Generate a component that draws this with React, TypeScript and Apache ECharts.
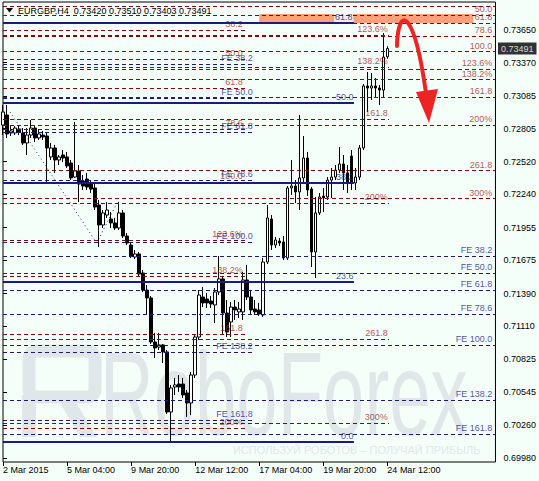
import React, { useEffect, useRef } from "react";
import * as echarts from "echarts";

const symbolName = "EURGBP,H4";

const opens = [
  0.72835, 0.72921, 0.72767, 0.72767, 0.72801, 0.72767, 0.72681, 0.72749, 0.72809, 0.72724,
  0.72749, 0.72741, 0.72561, 0.72638, 0.72535, 0.72578, 0.72561, 0.72509, 0.72389, 0.72441,
  0.72355, 0.72372, 0.72338, 0.72295, 0.72149, 0.71978, 0.72063, 0.72029, 0.71995, 0.71952,
  0.72081, 0.71883, 0.71806, 0.71703, 0.71729, 0.71566, 0.7142, 0.71352, 0.70974, 0.70931,
  0.70949, 0.70889, 0.70374, 0.70588, 0.70614, 0.70614, 0.70537, 0.70451, 0.70691, 0.71017,
  0.7136, 0.71343, 0.71326, 0.71292, 0.71403, 0.71515, 0.71223, 0.71146, 0.71274, 0.71232,
  0.71232, 0.71506, 0.7136, 0.71257, 0.71249, 0.71206, 0.7166, 0.72029, 0.71806, 0.7184,
  0.71832, 0.71695, 0.72295, 0.72312, 0.72261, 0.72381, 0.72552, 0.72286, 0.71746, 0.72081,
  0.72226, 0.72218, 0.72363, 0.72389, 0.72449, 0.72501, 0.72424, 0.72569, 0.72338, 0.72389,
  0.72638, 0.7317, 0.73152, 0.7317, 0.73152, 0.73135, 0.7342,
];
const closes = [
  0.72947, 0.72758, 0.72784, 0.72809, 0.72775, 0.72681, 0.72749, 0.72809, 0.72724, 0.72758,
  0.72732, 0.72638, 0.72638, 0.72535, 0.72561, 0.72552, 0.72484, 0.72381, 0.72441, 0.72329,
  0.72312, 0.72303, 0.72286, 0.72132, 0.71978, 0.72081, 0.72106, 0.71995, 0.71952, 0.72081,
  0.71883, 0.71823, 0.71712, 0.71729, 0.71557, 0.7142, 0.71352, 0.70974, 0.70923, 0.70949,
  0.70889, 0.70374, 0.7058, 0.70606, 0.70588, 0.7052, 0.70451, 0.70691, 0.71017, 0.71377,
  0.71309, 0.71309, 0.713, 0.71403, 0.71515, 0.71223, 0.7106, 0.71274, 0.71249, 0.71257,
  0.71506, 0.7136, 0.71249, 0.71232, 0.71214, 0.7166, 0.72038, 0.71806, 0.71849, 0.71823,
  0.71695, 0.72295, 0.72312, 0.72261, 0.72381, 0.72552, 0.72278, 0.71746, 0.72081, 0.72218,
  0.72209, 0.72363, 0.72389, 0.72449, 0.72501, 0.72424, 0.72338, 0.72338, 0.72389, 0.72638,
  0.7317, 0.73152, 0.7317, 0.73152, 0.73135, 0.73418, 0.73491,
];
const lows = [
  0.72749, 0.72724, 0.72741, 0.72749, 0.72749, 0.72664, 0.72578, 0.72724, 0.72689, 0.72706,
  0.72706, 0.72346, 0.72535, 0.72424, 0.72492, 0.72518, 0.72466, 0.72363, 0.72381, 0.72175,
  0.72278, 0.72278, 0.72252, 0.72106, 0.71789, 0.71952, 0.72038, 0.71952, 0.71935, 0.71935,
  0.71866, 0.71806, 0.71695, 0.71686, 0.7154, 0.71403, 0.71206, 0.70957, 0.70837, 0.70906,
  0.70794, 0.70357, 0.70117, 0.7052, 0.70546, 0.70494, 0.70331, 0.70348, 0.70666, 0.70991,
  0.71274, 0.71266, 0.71266, 0.71137, 0.71377, 0.71034, 0.71017, 0.71017, 0.71163, 0.7118,
  0.71163, 0.71334, 0.71206, 0.71206, 0.71197, 0.71189, 0.71643, 0.71763, 0.7178, 0.71798,
  0.71677, 0.71677, 0.72235, 0.72166, 0.72106, 0.72338, 0.72226, 0.71617, 0.71523, 0.72063,
  0.72089, 0.72192, 0.72209, 0.72363, 0.72424, 0.72278, 0.72252, 0.72278, 0.72278, 0.72363,
  0.72621, 0.72947, 0.7305, 0.73067, 0.73007, 0.73075, 0.73403,
];
const highs = [
  0.73007, 0.73007, 0.72827, 0.72827, 0.72835, 0.72809, 0.72809, 0.72878, 0.72827, 0.72792,
  0.72784, 0.72767, 0.72681, 0.72664, 0.72578, 0.72621, 0.72604, 0.72535, 0.72861, 0.72492,
  0.72406, 0.72424, 0.72363, 0.72346, 0.72192, 0.72106, 0.72175, 0.72089, 0.72038, 0.72175,
  0.72106, 0.71909, 0.71823, 0.71763, 0.71746, 0.71592, 0.71463, 0.71369, 0.71052, 0.71052,
  0.70957, 0.70906, 0.70606, 0.70666, 0.70691, 0.70666, 0.70563, 0.70717, 0.71034, 0.7142,
  0.71446, 0.71395, 0.71369, 0.71437, 0.71712, 0.7154, 0.71334, 0.71317, 0.71334, 0.71317,
  0.71575, 0.71635, 0.7142, 0.71334, 0.71309, 0.71695, 0.72149, 0.72063, 0.71875, 0.71866,
  0.71883, 0.72312, 0.72535, 0.72363, 0.72921, 0.72741, 0.72604, 0.72303, 0.72218, 0.72252,
  0.72295, 0.72389, 0.72466, 0.72492, 0.72646, 0.72578, 0.72492, 0.72621, 0.72466, 0.72664,
  0.73187, 0.7329, 0.73281, 0.73238, 0.73178, 0.73624, 0.7351,
];

const slotCount = 124;
const xTickIndex = [0, 16, 32, 48, 64, 80, 96];
const xTickLabels = ["2 Mar 2015", "5 Mar 04:00", "9 Mar 20:00", "12 Mar 12:00", "17 Mar 04:00", "19 Mar 20:00", "24 Mar 12:00"];
const yTickValues = [0.6998, 0.7026, 0.70545, 0.70825, 0.7111, 0.7139, 0.71675, 0.71955, 0.7224, 0.7252, 0.72805, 0.73085, 0.7337, 0.7365];
const yMin = 0.69945;
const yMax = 0.7389;

// Fibonacci objects: price at 0% and at 100%, and their level sets
const rightFibAnchors = [0.74096, 0.73465];
const rightFibLevels = [38.2, 50, 61.8, 78.6, 100, 123.6, 138.2, 161.8, 200, 261.8, 300];
const rightFibTexts = ["", "50.0", "61.8", "78.6", "100.0", "123.6%", "138.2%", "161.8", "200%", "261.8", "300%"];

const leftFibAnchors = [0.74456, 0.72346];
const leftFibLevels = [38.2, 50, 61.8, 78.6, 100, 123.6, 138.2, 161.8, 200];
const leftFibTexts = ["38.2", "50.0", "61.8", "78.6", "100.0", "123.6%", "138.2%", "161.8", "200%"];

const midFibAnchors = [0.75939, 0.74053];
const midFibLevels = [123.6, 138.2, 161.8, 200, 261.8, 300];
const midFibTexts = ["123.6%", "138.2%", "161.8", "200%", "261.8", "300%"];

const navyFibAnchors = [0.70117, 0.75931];
const navyFibLevels = [0, 23.6, 38.2, 50, 61.8];
const navyFibTexts = ["0.0", "23.6", "38.2", "50.0", "61.8"];

const leftExpAnchors = [0.74301, 0.71832];
const rightExpAnchors = [0.72183, 0.70949];
const expLevels = [38.2, 50, 61.8, 78.6, 100, 138.2, 161.8];
const expTexts = ["FE 38.2", "FE 50.0", "FE 61.8", "FE 78.6", "FE 100.0", "FE 138.2", "FE 161.8"];

const anchorPathX = [1.75, 23.4, 28.6];
const anchorPathY = [0.72947, 0.71823, 0.72175];

const zoneX = [64, 117.5];
const zoneY = [0.73787, 0.7371];

const BG = "#F5FFFA";
const MAROON = "#8B0000";
const MAROON_TEXT = "#A0282A";
const NAVY = "#1B1B7E";
const NAVY_TEXT = "#24248E";
const SALMON = "#FFA07A";
const WM = "#DFE7E8";
const RED = "#EE2424";
const FONT = '"Liberation Sans", Arial, sans-serif';

export default function App() {
  const ref = useRef<HTMLDivElement>(null);

  useEffect(() => {
    const chart = echarts.init(ref.current!, null, { renderer: "svg" });
    const last = opens.length - 1;
    const candles = opens.map((o, i) => [o, closes[i], lows[i], highs[i]]);
    const categories = Array.from({ length: slotCount }, (_, i) => String(i));
    const tickSet = new Set(xTickIndex);
    const dash = [4, 3];

    const groups = [
      { anchors: rightFibAnchors, levels: rightFibLevels, texts: rightFibTexts, x1: 123, lx: 122.3, line: MAROON, text: MAROON_TEXT, width: 1, type: dash as any, bg: -1 },
      { anchors: leftFibAnchors, levels: leftFibLevels, texts: leftFibTexts, x1: 60.5, lx: 60, line: MAROON, text: MAROON_TEXT, width: 1, type: dash as any, bg: -1 },
      { anchors: midFibAnchors, levels: midFibLevels, texts: midFibTexts, x1: 96.4, lx: 96.2, line: MAROON, text: MAROON_TEXT, width: 1, type: dash as any, bg: -1 },
      { anchors: navyFibAnchors, levels: navyFibLevels, texts: navyFibTexts, x1: 87.65, lx: 87.65, line: NAVY, text: NAVY_TEXT, width: 2, type: "solid" as any, bg: 4 },
      { anchors: leftExpAnchors, levels: expLevels, texts: expTexts, x1: 62.75, lx: 62.5, line: NAVY, text: NAVY_TEXT, width: 1, type: dash as any, bg: -1 },
      { anchors: rightExpAnchors, levels: expLevels, texts: expTexts, x1: 123, lx: 122.3, line: NAVY, text: NAVY_TEXT, width: 1, type: dash as any, bg: -1 },
    ];

    const lineData: any[] = [];
    const labelData: any[] = [];
    groups.forEach((g) => {
      g.levels.forEach((lv, k) => {
        const p = g.anchors[0] + ((g.anchors[1] - g.anchors[0]) * lv) / 100;
        const ls = { color: g.line, width: g.width, type: g.type };
        lineData.push([{ coord: [0, p], lineStyle: ls }, { coord: [g.x1, p], lineStyle: ls }]);
        if (g.texts[k]) {
          const lab: any = { color: g.text };
          if (g.bg === k) {
            lab.backgroundColor = BG;
            lab.padding = [0, 1, 0, 1];
          }
          labelData.push({ value: [g.lx, p], text: g.texts[k], label: lab });
        }
      });
    });
    const dotted = { color: NAVY, width: 1, type: [1, 3] };
    for (let i = 0; i < anchorPathX.length - 1; i++) {
      lineData.push([
        { coord: [anchorPathX[i], anchorPathY[i]], lineStyle: dotted },
        { coord: [anchorPathX[i + 1], anchorPathY[i + 1]], lineStyle: dotted },
      ]);
    }

    const title = `${symbolName}  ${opens[last].toFixed(5)} ${highs[last].toFixed(5)} ${lows[last].toFixed(5)} ${closes[last].toFixed(5)}`;
    const lastPrice = closes[last];

    const option: any = {
      animation: false,
      backgroundColor: BG,
      grid: { left: 3, top: 2, width: 494, height: 460, show: true, borderColor: "#000", borderWidth: 1, backgroundColor: "transparent" },
      xAxis: [
        {
          type: "category",
          data: categories,
          boundaryGap: false,
          axisLine: { show: false },
          splitLine: { show: false },
          axisTick: { show: true, interval: (i: number) => tickSet.has(i), length: 4, lineStyle: { color: "#000" } },
          axisLabel: {
            interval: (i: number) => tickSet.has(i),
            formatter: (_v: string, i: number) => {
              const k = xTickIndex.indexOf(i);
              return k >= 0 ? xTickLabels[k] : "";
            },
            align: "left",
            margin: 3,
            fontSize: 9,
            fontFamily: FONT,
            color: "#000",
          },
        },
        { type: "value", min: 0, max: slotCount - 1, show: false, gridIndex: 0 },
      ],
      yAxis: {
        type: "value",
        position: "right",
        min: yMin,
        max: yMax,
        axisLine: { show: false },
        splitLine: { show: false },
        axisTick: { show: true, customValues: yTickValues, length: 4, lineStyle: { color: "#000" } },
        axisLabel: {
          customValues: yTickValues,
          formatter: (v: number) => v.toFixed(5),
          margin: 8,
          fontSize: 9,
          fontFamily: FONT,
          color: "#000",
        },
      },
      graphic: [
        { type: "rect", z: 0, silent: true, shape: { x: 29, y: 351, width: 66, height: 46, r: 8 }, style: { fill: "none", stroke: WM, lineWidth: 13 } },
        { type: "rect", z: 0, silent: true, shape: { x: 22, y: 395, width: 14, height: 42 }, style: { fill: WM } },
        { type: "polygon", z: 0, silent: true, shape: { points: [[56, 396], [72, 396], [97, 437], [80, 437]] }, style: { fill: WM } },
        { type: "text", z: 0, silent: true, x: 100, y: 394, scaleX: 0.63, style: { text: "RoboForex", font: `118px ${FONT}`, fill: WM, verticalAlign: "middle", textVerticalAlign: "middle" } },
        { type: "text", z: 0, silent: true, x: 233, y: 450, style: { text: "ИСПОЛЬЗУЙ РОБОТОВ – ПОЛУЧАЙ ПРИБЫЛЬ", font: `11px ${FONT}`, fill: WM, verticalAlign: "middle", textVerticalAlign: "middle" } },
        { type: "polygon", z: 50, silent: true, shape: { points: [[6, 8], [13, 8], [9.5, 12.5]] }, style: { fill: "#000" } },
        { type: "text", z: 50, silent: true, x: 18, y: 10.5, style: { text: title, font: `9px ${FONT}`, fill: "#000", verticalAlign: "middle", textVerticalAlign: "middle" } },
        { type: "bezierCurve", z: 50, silent: true, shape: { x1: 397, y1: 46, cpx1: 398, cpy1: 5, cpx2: 414, cpy2: 8, x2: 426, y2: 93 }, style: { stroke: RED, lineWidth: 4, fill: null, lineCap: "round" } },
        { type: "polygon", z: 50, silent: true, shape: { points: [[416, 92], [438, 89], [429, 123]] }, style: { fill: RED } },
      ],
      series: [
        {
          type: "scatter",
          xAxisIndex: 1,
          yAxisIndex: 0,
          data: [[0, yMin]],
          symbolSize: 0,
          z: 1,
          silent: true,
          markArea: {
            silent: true,
            itemStyle: { color: SALMON },
            data: [[{ coord: [zoneX[0], zoneY[0]] }, { coord: [zoneX[1], zoneY[1]] }]],
          },
        },
        {
          type: "scatter",
          xAxisIndex: 1,
          yAxisIndex: 0,
          data: [[0, yMin]],
          symbolSize: 0,
          z: 1.5,
          silent: true,
          markLine: {
            silent: true,
            symbol: ["none", "none"],
            label: { show: false },
            data: lineData,
          },
        },
        {
          type: "candlestick",
          xAxisIndex: 0,
          yAxisIndex: 0,
          data: candles,
          barWidth: 3,
          z: 2,
          silent: true,
          itemStyle: { color: "#FFFFFF", color0: "#000000", borderColor: "#000000", borderColor0: "#000000", borderWidth: 1 },
        },
        {
          type: "scatter",
          xAxisIndex: 1,
          yAxisIndex: 0,
          data: labelData,
          symbolSize: 1,
          itemStyle: { color: "rgba(0,0,0,0)" },
          z: 3,
          clip: false,
          silent: true,
          label: {
            show: true,
            position: [0, 0],
            align: "right",
            verticalAlign: "bottom",
            fontSize: 9,
            lineHeight: 11,
            fontFamily: FONT,
            formatter: (p: any) => p.data.text,
          },
        },
        {
          type: "scatter",
          xAxisIndex: 1,
          yAxisIndex: 0,
          data: [[slotCount - 1, lastPrice]],
          symbolSize: 1,
          itemStyle: { color: "rgba(0,0,0,0)" },
          z: 5,
          clip: false,
          silent: true,
          label: {
            show: true,
            position: "right",
            distance: 2,
            backgroundColor: "#000",
            color: "#fff",
            padding: [1, 3, 0, 3],
            fontSize: 9,
            lineHeight: 11,
            fontFamily: FONT,
            formatter: () => lastPrice.toFixed(5),
          },
        },
      ],
    };

    chart.setOption(option);
    return () => chart.dispose();
  }, []);

  return <div ref={ref} style={{ position: "fixed", left: 0, top: 0, width: 539, height: 481 }} />;
}
